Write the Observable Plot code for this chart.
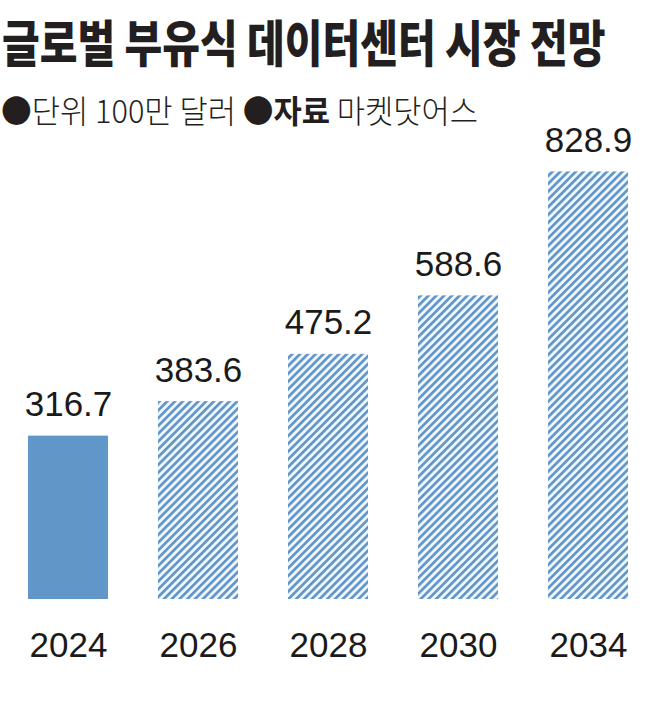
<!DOCTYPE html>
<html>
<head>
<meta charset="utf-8">
<script src="https://cdn.jsdelivr.net/npm/d3@7"></script>
<script src="https://cdn.jsdelivr.net/npm/@observablehq/plot@0.6"></script>
<style>
  html, body { margin: 0; padding: 0; background: #fff; }
  #wrap { position: relative; width: 658px; height: 714px; overflow: hidden; }
  #header { position: relative; width: 658px; height: 100px; z-index: 2; }
  #title {
    position: absolute; left: 2px; top: 15px; white-space: nowrap;
    font-family: "Noto Sans CJK KR", sans-serif; font-weight: 900;
    font-size: 50px; line-height: 50px; color: #231f20;
    transform: scaleX(0.82); transform-origin: 0 0;
  }
  #subtitle {
    position: absolute; left: 1px; top: 91px; white-space: nowrap;
    font-family: "Noto Sans CJK KR", sans-serif; font-weight: 300;
    font-size: 32px; line-height: 36px; color: #231f20;
    transform: scaleX(0.96); transform-origin: 0 0;
  }
  #subtitle b { font-weight: 700; }
  #chart svg { display: block; overflow: visible; }
</style>
</head>
<body>
<div id="wrap">
  <div id="header">
    <div id="title">글로벌 부유식 데이터센터 시장 전망</div>
    <div id="subtitle">●단위 100만 달러 ●<b>자료</b> 마켓닷어스</div>
  </div>
  <div id="chart"></div>
</div>
<script>
const years = ["2024", "2026", "2028", "2030", "2034"];
const values = [316.7, 383.6, 475.2, 588.6, 828.9];
const forecast = [false, true, true, true, true];

const data = years.map((year, i) => ({year, value: values[i], forecast: forecast[i]}));

const solidColor = "#6096c8";

function hatchDefs() {
  const ns = "http://www.w3.org/2000/svg";
  const defs = document.createElementNS(ns, "defs");
  const pat = document.createElementNS(ns, "pattern");
  pat.setAttribute("id", "hatch");
  pat.setAttribute("patternUnits", "userSpaceOnUse");
  pat.setAttribute("width", "5.5");
  pat.setAttribute("height", "5.5");
  pat.setAttribute("patternTransform", "rotate(45)");
  const bg = document.createElementNS(ns, "rect");
  bg.setAttribute("width", "5.5"); bg.setAttribute("height", "5.5");
  bg.setAttribute("fill", "#eef7fd");
  const st = document.createElementNS(ns, "rect");
  st.setAttribute("width", "2.6"); st.setAttribute("height", "5.5");
  st.setAttribute("fill", "#5f92c6");
  pat.appendChild(bg); pat.appendChild(st);
  defs.appendChild(pat);
  return defs;
}

const chart = Plot.plot({
  width: 658,
  height: 614,
  marginLeft: 3,
  marginRight: 5,
  marginTop: 60,
  marginBottom: 115,
  style: {fontFamily: "'Liberation Sans', Arial, sans-serif", color: "#1a1a1a", background: "transparent", overflow: "visible"},
  x: {domain: years, paddingInner: 50 / 130, paddingOuter: 25 / 130, label: null},
  y: {domain: [0, 851], axis: null},
  marks: [
    hatchDefs,
    Plot.barY(data.filter(d => !d.forecast), {x: "year", y: "value", fill: solidColor}),
    Plot.barY(data.filter(d => d.forecast), {x: "year", y: "value", fill: "url(#hatch)"}),
    Plot.text(data, {
      x: "year", y: "value", text: d => d3.format(".1f")(d.value),
      dy: -20, lineAnchor: "bottom", fontSize: 35, fill: "#1a1a1a"
    }),
    Plot.axisX({tickSize: 0, tickPadding: 33, fontSize: 35, label: null, fill: "#1a1a1a"})
  ]
});
document.getElementById("chart").appendChild(chart);
</script>
</body>
</html>
